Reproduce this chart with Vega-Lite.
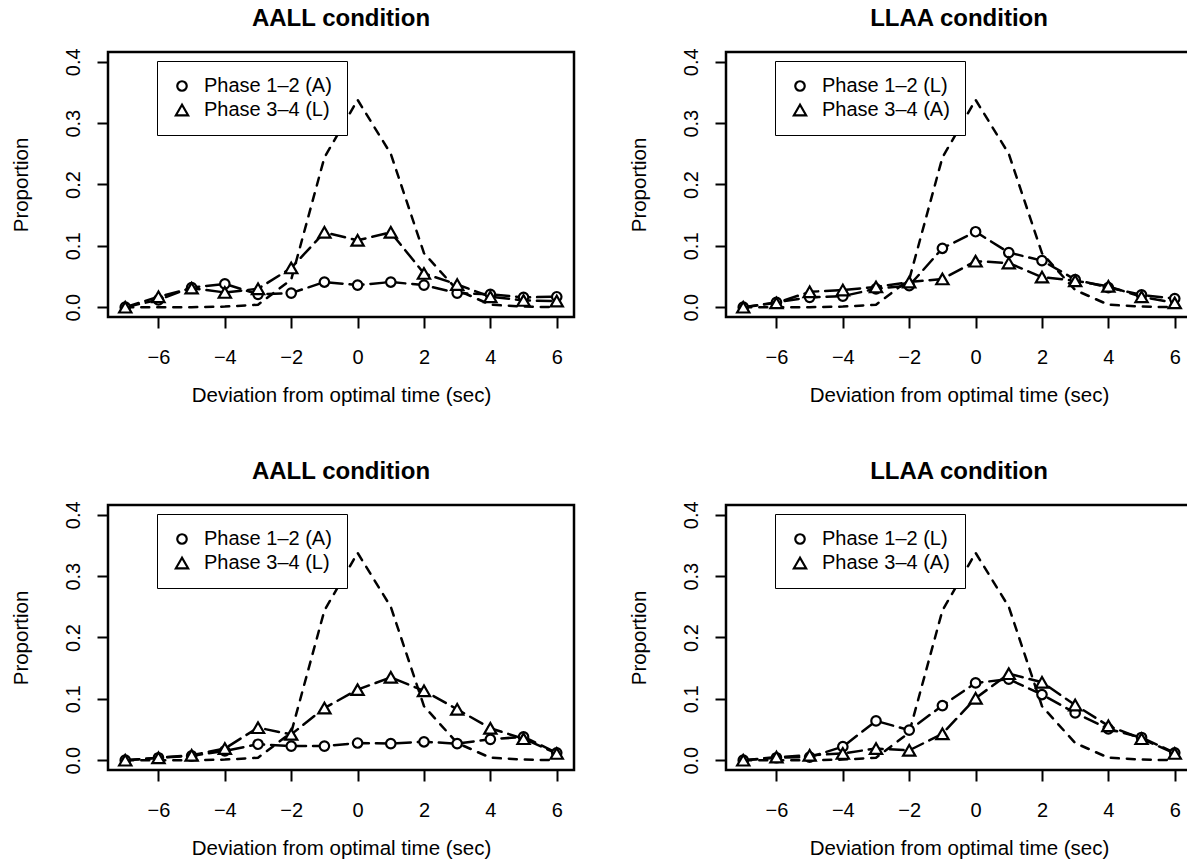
{
  "$schema": "https://vega.github.io/schema/vega-lite/v6.json",
  "background": "white",
  "padding": {"left": 9, "top": 5, "right": 0, "bottom": 0},
  "datasets": {
    "ref": [
      {"x": -7, "y": 0}, {"x": -6, "y": 0}, {"x": -5, "y": 0}, {"x": -4, "y": 0.001},
      {"x": -3, "y": 0.004}, {"x": -2, "y": 0.045}, {"x": -1, "y": 0.244}, {"x": 0, "y": 0.338},
      {"x": 1, "y": 0.25}, {"x": 2, "y": 0.088}, {"x": 3, "y": 0.028}, {"x": 4, "y": 0.004},
      {"x": 5, "y": 0.001}, {"x": 6, "y": 0}
    ],
    "obs": [
      {"panel": "p1", "series": "Phase 1–2 (A)", "x": -7, "y": 0},
      {"panel": "p1", "series": "Phase 1–2 (A)", "x": -6, "y": 0.012},
      {"panel": "p1", "series": "Phase 1–2 (A)", "x": -5, "y": 0.032},
      {"panel": "p1", "series": "Phase 1–2 (A)", "x": -4, "y": 0.038},
      {"panel": "p1", "series": "Phase 1–2 (A)", "x": -3, "y": 0.021},
      {"panel": "p1", "series": "Phase 1–2 (A)", "x": -2, "y": 0.023},
      {"panel": "p1", "series": "Phase 1–2 (A)", "x": -1, "y": 0.041},
      {"panel": "p1", "series": "Phase 1–2 (A)", "x": 0, "y": 0.036},
      {"panel": "p1", "series": "Phase 1–2 (A)", "x": 1, "y": 0.041},
      {"panel": "p1", "series": "Phase 1–2 (A)", "x": 2, "y": 0.036},
      {"panel": "p1", "series": "Phase 1–2 (A)", "x": 3, "y": 0.023},
      {"panel": "p1", "series": "Phase 1–2 (A)", "x": 4, "y": 0.021},
      {"panel": "p1", "series": "Phase 1–2 (A)", "x": 5, "y": 0.016},
      {"panel": "p1", "series": "Phase 1–2 (A)", "x": 6, "y": 0.017},
      {"panel": "p1", "series": "Phase 3–4 (L)", "x": -7, "y": 0},
      {"panel": "p1", "series": "Phase 3–4 (L)", "x": -6, "y": 0.017},
      {"panel": "p1", "series": "Phase 3–4 (L)", "x": -5, "y": 0.031},
      {"panel": "p1", "series": "Phase 3–4 (L)", "x": -4, "y": 0.024},
      {"panel": "p1", "series": "Phase 3–4 (L)", "x": -3, "y": 0.03},
      {"panel": "p1", "series": "Phase 3–4 (L)", "x": -2, "y": 0.064},
      {"panel": "p1", "series": "Phase 3–4 (L)", "x": -1, "y": 0.122},
      {"panel": "p1", "series": "Phase 3–4 (L)", "x": 0, "y": 0.109},
      {"panel": "p1", "series": "Phase 3–4 (L)", "x": 1, "y": 0.122},
      {"panel": "p1", "series": "Phase 3–4 (L)", "x": 2, "y": 0.055},
      {"panel": "p1", "series": "Phase 3–4 (L)", "x": 3, "y": 0.037},
      {"panel": "p1", "series": "Phase 3–4 (L)", "x": 4, "y": 0.017},
      {"panel": "p1", "series": "Phase 3–4 (L)", "x": 5, "y": 0.011},
      {"panel": "p1", "series": "Phase 3–4 (L)", "x": 6, "y": 0.01},

      {"panel": "p2", "series": "Phase 1–2 (L)", "x": -7, "y": 0},
      {"panel": "p2", "series": "Phase 1–2 (L)", "x": -6, "y": 0.008},
      {"panel": "p2", "series": "Phase 1–2 (L)", "x": -5, "y": 0.016},
      {"panel": "p2", "series": "Phase 1–2 (L)", "x": -4, "y": 0.018},
      {"panel": "p2", "series": "Phase 1–2 (L)", "x": -3, "y": 0.03},
      {"panel": "p2", "series": "Phase 1–2 (L)", "x": -2, "y": 0.035},
      {"panel": "p2", "series": "Phase 1–2 (L)", "x": -1, "y": 0.096},
      {"panel": "p2", "series": "Phase 1–2 (L)", "x": 0, "y": 0.123},
      {"panel": "p2", "series": "Phase 1–2 (L)", "x": 1, "y": 0.089},
      {"panel": "p2", "series": "Phase 1–2 (L)", "x": 2, "y": 0.076},
      {"panel": "p2", "series": "Phase 1–2 (L)", "x": 3, "y": 0.045},
      {"panel": "p2", "series": "Phase 1–2 (L)", "x": 4, "y": 0.032},
      {"panel": "p2", "series": "Phase 1–2 (L)", "x": 5, "y": 0.02},
      {"panel": "p2", "series": "Phase 1–2 (L)", "x": 6, "y": 0.014},
      {"panel": "p2", "series": "Phase 3–4 (A)", "x": -7, "y": 0},
      {"panel": "p2", "series": "Phase 3–4 (A)", "x": -6, "y": 0.007},
      {"panel": "p2", "series": "Phase 3–4 (A)", "x": -5, "y": 0.025},
      {"panel": "p2", "series": "Phase 3–4 (A)", "x": -4, "y": 0.028},
      {"panel": "p2", "series": "Phase 3–4 (A)", "x": -3, "y": 0.033},
      {"panel": "p2", "series": "Phase 3–4 (A)", "x": -2, "y": 0.041},
      {"panel": "p2", "series": "Phase 3–4 (A)", "x": -1, "y": 0.046},
      {"panel": "p2", "series": "Phase 3–4 (A)", "x": 0, "y": 0.075},
      {"panel": "p2", "series": "Phase 3–4 (A)", "x": 1, "y": 0.072},
      {"panel": "p2", "series": "Phase 3–4 (A)", "x": 2, "y": 0.049},
      {"panel": "p2", "series": "Phase 3–4 (A)", "x": 3, "y": 0.043},
      {"panel": "p2", "series": "Phase 3–4 (A)", "x": 4, "y": 0.034},
      {"panel": "p2", "series": "Phase 3–4 (A)", "x": 5, "y": 0.017},
      {"panel": "p2", "series": "Phase 3–4 (A)", "x": 6, "y": 0.007},

      {"panel": "p3", "series": "Phase 1–2 (A)", "x": -7, "y": 0},
      {"panel": "p3", "series": "Phase 1–2 (A)", "x": -6, "y": 0.004},
      {"panel": "p3", "series": "Phase 1–2 (A)", "x": -5, "y": 0.007},
      {"panel": "p3", "series": "Phase 1–2 (A)", "x": -4, "y": 0.015},
      {"panel": "p3", "series": "Phase 1–2 (A)", "x": -3, "y": 0.026},
      {"panel": "p3", "series": "Phase 1–2 (A)", "x": -2, "y": 0.023},
      {"panel": "p3", "series": "Phase 1–2 (A)", "x": -1, "y": 0.023},
      {"panel": "p3", "series": "Phase 1–2 (A)", "x": 0, "y": 0.028},
      {"panel": "p3", "series": "Phase 1–2 (A)", "x": 1, "y": 0.027},
      {"panel": "p3", "series": "Phase 1–2 (A)", "x": 2, "y": 0.03},
      {"panel": "p3", "series": "Phase 1–2 (A)", "x": 3, "y": 0.027},
      {"panel": "p3", "series": "Phase 1–2 (A)", "x": 4, "y": 0.034},
      {"panel": "p3", "series": "Phase 1–2 (A)", "x": 5, "y": 0.038},
      {"panel": "p3", "series": "Phase 1–2 (A)", "x": 6, "y": 0.012},
      {"panel": "p3", "series": "Phase 3–4 (L)", "x": -7, "y": 0},
      {"panel": "p3", "series": "Phase 3–4 (L)", "x": -6, "y": 0.004},
      {"panel": "p3", "series": "Phase 3–4 (L)", "x": -5, "y": 0.008},
      {"panel": "p3", "series": "Phase 3–4 (L)", "x": -4, "y": 0.019},
      {"panel": "p3", "series": "Phase 3–4 (L)", "x": -3, "y": 0.053},
      {"panel": "p3", "series": "Phase 3–4 (L)", "x": -2, "y": 0.042},
      {"panel": "p3", "series": "Phase 3–4 (L)", "x": -1, "y": 0.085},
      {"panel": "p3", "series": "Phase 3–4 (L)", "x": 0, "y": 0.115},
      {"panel": "p3", "series": "Phase 3–4 (L)", "x": 1, "y": 0.135},
      {"panel": "p3", "series": "Phase 3–4 (L)", "x": 2, "y": 0.113},
      {"panel": "p3", "series": "Phase 3–4 (L)", "x": 3, "y": 0.083},
      {"panel": "p3", "series": "Phase 3–4 (L)", "x": 4, "y": 0.052},
      {"panel": "p3", "series": "Phase 3–4 (L)", "x": 5, "y": 0.035},
      {"panel": "p3", "series": "Phase 3–4 (L)", "x": 6, "y": 0.011},

      {"panel": "p4", "series": "Phase 1–2 (L)", "x": -7, "y": 0},
      {"panel": "p4", "series": "Phase 1–2 (L)", "x": -6, "y": 0.004},
      {"panel": "p4", "series": "Phase 1–2 (L)", "x": -5, "y": 0.005},
      {"panel": "p4", "series": "Phase 1–2 (L)", "x": -4, "y": 0.022},
      {"panel": "p4", "series": "Phase 1–2 (L)", "x": -3, "y": 0.064},
      {"panel": "p4", "series": "Phase 1–2 (L)", "x": -2, "y": 0.049},
      {"panel": "p4", "series": "Phase 1–2 (L)", "x": -1, "y": 0.089},
      {"panel": "p4", "series": "Phase 1–2 (L)", "x": 0, "y": 0.126},
      {"panel": "p4", "series": "Phase 1–2 (L)", "x": 1, "y": 0.132},
      {"panel": "p4", "series": "Phase 1–2 (L)", "x": 2, "y": 0.107},
      {"panel": "p4", "series": "Phase 1–2 (L)", "x": 3, "y": 0.077},
      {"panel": "p4", "series": "Phase 1–2 (L)", "x": 4, "y": 0.051},
      {"panel": "p4", "series": "Phase 1–2 (L)", "x": 5, "y": 0.037},
      {"panel": "p4", "series": "Phase 1–2 (L)", "x": 6, "y": 0.012},
      {"panel": "p4", "series": "Phase 3–4 (A)", "x": -7, "y": 0},
      {"panel": "p4", "series": "Phase 3–4 (A)", "x": -6, "y": 0.005},
      {"panel": "p4", "series": "Phase 3–4 (A)", "x": -5, "y": 0.008},
      {"panel": "p4", "series": "Phase 3–4 (A)", "x": -4, "y": 0.011},
      {"panel": "p4", "series": "Phase 3–4 (A)", "x": -3, "y": 0.019},
      {"panel": "p4", "series": "Phase 3–4 (A)", "x": -2, "y": 0.016},
      {"panel": "p4", "series": "Phase 3–4 (A)", "x": -1, "y": 0.043},
      {"panel": "p4", "series": "Phase 3–4 (A)", "x": 0, "y": 0.101},
      {"panel": "p4", "series": "Phase 3–4 (A)", "x": 1, "y": 0.141},
      {"panel": "p4", "series": "Phase 3–4 (A)", "x": 2, "y": 0.127},
      {"panel": "p4", "series": "Phase 3–4 (A)", "x": 3, "y": 0.09},
      {"panel": "p4", "series": "Phase 3–4 (A)", "x": 4, "y": 0.056},
      {"panel": "p4", "series": "Phase 3–4 (A)", "x": 5, "y": 0.035},
      {"panel": "p4", "series": "Phase 3–4 (A)", "x": 6, "y": 0.011}
    ]
  },
  "concat": [
    {
      "width": 466, "height": 265,
      "title": {"text": "AALL condition"},
      "encoding": {
        "x": {"field": "x", "type": "quantitative", "scale": {"domain": [-7.52, 6.52], "nice": false, "zero": false},
              "axis": {"values": [-6, -4, -2, 0, 2, 4, 6], "title": "Deviation from optimal time (sec)"}},
        "y": {"field": "y", "type": "quantitative", "scale": {"domain": [-0.016, 0.416], "nice": false, "zero": false},
              "axis": {"values": [0, 0.1, 0.2, 0.3, 0.4], "format": ".1f", "title": "Proportion"}}
      },
      "layer": [
        {"data": {"name": "ref"}, "mark": {"type": "line", "stroke": "black", "strokeWidth": 2.5, "strokeDash": [8, 8], "strokeCap": "round"}},
        {"data": {"name": "obs"}, "transform": [{"filter": "datum.panel === 'p1'"}],
         "mark": {"type": "line", "stroke": "black", "strokeWidth": 2.5, "strokeDash": [14, 7], "strokeCap": "round"},
         "encoding": {"detail": {"field": "series"}}},
        {"data": {"name": "obs"}, "transform": [{"filter": "datum.panel === 'p1'"}],
         "mark": {"type": "point", "filled": false, "fill": "white", "stroke": "black", "strokeWidth": 2.2, "opacity": 1},
         "encoding": {
           "shape": {"field": "series", "type": "ordinal", "scale": {"range": ["circle", "triangle-up"]},
                     "legend": {"title": null, "symbolStrokeColor": "black", "symbolFillColor": "white", "symbolStrokeWidth": 2.2, "symbolOpacity": 1,
                                "encode": {"symbols": {"update": {"stroke": {"value": "black"}, "fill": {"value": "white"}, "strokeWidth": {"value": 2.2}, "opacity": {"value": 1}}},
                                           "legend": {"update": {"stroke": {"value": "black"}, "strokeWidth": {"value": 2.5}}}}}},
           "size": {"field": "series", "type": "ordinal", "scale": {"range": [90, 150]}, "legend": {"title": null}}
         }}
      ]
    },
    {
      "width": 466, "height": 265,
      "title": {"text": "LLAA condition"},
      "encoding": {
        "x": {"field": "x", "type": "quantitative", "scale": {"domain": [-7.52, 6.52], "nice": false, "zero": false},
              "axis": {"values": [-6, -4, -2, 0, 2, 4, 6], "title": "Deviation from optimal time (sec)"}},
        "y": {"field": "y", "type": "quantitative", "scale": {"domain": [-0.016, 0.416], "nice": false, "zero": false},
              "axis": {"values": [0, 0.1, 0.2, 0.3, 0.4], "format": ".1f", "title": "Proportion"}}
      },
      "layer": [
        {"data": {"name": "ref"}, "mark": {"type": "line", "stroke": "black", "strokeWidth": 2.5, "strokeDash": [8, 8], "strokeCap": "round"}},
        {"data": {"name": "obs"}, "transform": [{"filter": "datum.panel === 'p2'"}],
         "mark": {"type": "line", "stroke": "black", "strokeWidth": 2.5, "strokeDash": [14, 7], "strokeCap": "round"},
         "encoding": {"detail": {"field": "series"}}},
        {"data": {"name": "obs"}, "transform": [{"filter": "datum.panel === 'p2'"}],
         "mark": {"type": "point", "filled": false, "fill": "white", "stroke": "black", "strokeWidth": 2.2, "opacity": 1},
         "encoding": {
           "shape": {"field": "series", "type": "ordinal", "scale": {"range": ["circle", "triangle-up"]},
                     "legend": {"title": null, "symbolStrokeColor": "black", "symbolFillColor": "white", "symbolStrokeWidth": 2.2, "symbolOpacity": 1,
                                "encode": {"symbols": {"update": {"stroke": {"value": "black"}, "fill": {"value": "white"}, "strokeWidth": {"value": 2.2}, "opacity": {"value": 1}}},
                                           "legend": {"update": {"stroke": {"value": "black"}, "strokeWidth": {"value": 2.5}}}}}},
           "size": {"field": "series", "type": "ordinal", "scale": {"range": [90, 150]}, "legend": {"title": null}}
         }}
      ]
    },
    {
      "width": 466, "height": 265,
      "title": {"text": "AALL condition"},
      "encoding": {
        "x": {"field": "x", "type": "quantitative", "scale": {"domain": [-7.52, 6.52], "nice": false, "zero": false},
              "axis": {"values": [-6, -4, -2, 0, 2, 4, 6], "title": "Deviation from optimal time (sec)"}},
        "y": {"field": "y", "type": "quantitative", "scale": {"domain": [-0.016, 0.416], "nice": false, "zero": false},
              "axis": {"values": [0, 0.1, 0.2, 0.3, 0.4], "format": ".1f", "title": "Proportion"}}
      },
      "layer": [
        {"data": {"name": "ref"}, "mark": {"type": "line", "stroke": "black", "strokeWidth": 2.5, "strokeDash": [8, 8], "strokeCap": "round"}},
        {"data": {"name": "obs"}, "transform": [{"filter": "datum.panel === 'p3'"}],
         "mark": {"type": "line", "stroke": "black", "strokeWidth": 2.5, "strokeDash": [14, 7], "strokeCap": "round"},
         "encoding": {"detail": {"field": "series"}}},
        {"data": {"name": "obs"}, "transform": [{"filter": "datum.panel === 'p3'"}],
         "mark": {"type": "point", "filled": false, "fill": "white", "stroke": "black", "strokeWidth": 2.2, "opacity": 1},
         "encoding": {
           "shape": {"field": "series", "type": "ordinal", "scale": {"range": ["circle", "triangle-up"]},
                     "legend": {"title": null, "symbolStrokeColor": "black", "symbolFillColor": "white", "symbolStrokeWidth": 2.2, "symbolOpacity": 1,
                                "encode": {"symbols": {"update": {"stroke": {"value": "black"}, "fill": {"value": "white"}, "strokeWidth": {"value": 2.2}, "opacity": {"value": 1}}},
                                           "legend": {"update": {"stroke": {"value": "black"}, "strokeWidth": {"value": 2.5}}}}}},
           "size": {"field": "series", "type": "ordinal", "scale": {"range": [90, 150]}, "legend": {"title": null}}
         }}
      ]
    },
    {
      "width": 466, "height": 265,
      "title": {"text": "LLAA condition"},
      "encoding": {
        "x": {"field": "x", "type": "quantitative", "scale": {"domain": [-7.52, 6.52], "nice": false, "zero": false},
              "axis": {"values": [-6, -4, -2, 0, 2, 4, 6], "title": "Deviation from optimal time (sec)"}},
        "y": {"field": "y", "type": "quantitative", "scale": {"domain": [-0.016, 0.416], "nice": false, "zero": false},
              "axis": {"values": [0, 0.1, 0.2, 0.3, 0.4], "format": ".1f", "title": "Proportion"}}
      },
      "layer": [
        {"data": {"name": "ref"}, "mark": {"type": "line", "stroke": "black", "strokeWidth": 2.5, "strokeDash": [8, 8], "strokeCap": "round"}},
        {"data": {"name": "obs"}, "transform": [{"filter": "datum.panel === 'p4'"}],
         "mark": {"type": "line", "stroke": "black", "strokeWidth": 2.5, "strokeDash": [14, 7], "strokeCap": "round"},
         "encoding": {"detail": {"field": "series"}}},
        {"data": {"name": "obs"}, "transform": [{"filter": "datum.panel === 'p4'"}],
         "mark": {"type": "point", "filled": false, "fill": "white", "stroke": "black", "strokeWidth": 2.2, "opacity": 1},
         "encoding": {
           "shape": {"field": "series", "type": "ordinal", "scale": {"range": ["circle", "triangle-up"]},
                     "legend": {"title": null, "symbolStrokeColor": "black", "symbolFillColor": "white", "symbolStrokeWidth": 2.2, "symbolOpacity": 1,
                                "encode": {"symbols": {"update": {"stroke": {"value": "black"}, "fill": {"value": "white"}, "strokeWidth": {"value": 2.2}, "opacity": {"value": 1}}},
                                           "legend": {"update": {"stroke": {"value": "black"}, "strokeWidth": {"value": 2.5}}}}}},
           "size": {"field": "series", "type": "ordinal", "scale": {"range": [90, 150]}, "legend": {"title": null}}
         }}
      ]
    }
  ],
  "columns": 2,
  "spacing": {"row": 188, "column": 152},
  "bounds": "flush",
  "resolve": {"scale": {"shape": "independent", "size": "independent"}, "legend": {"shape": "independent", "size": "independent"}},
  "config": {
    "font": "Liberation Sans",
    "view": {"stroke": "black", "strokeWidth": 2.5},
    "title": {"fontSize": 24, "fontWeight": "bold", "color": "black", "baseline": "alphabetic", "offset": 17, "anchor": "middle", "frame": "group"},
    "axis": {
      "grid": false, "domain": false,
      "tickColor": "black", "tickWidth": 2, "tickSize": 11,
      "labelFontSize": 20, "labelColor": "black", "labelFlush": false, "labelOverlap": false, "labelBound": false,
      "titleFontSize": 20.5, "titleFontWeight": "normal", "titleColor": "black"
    },
    "axisBottom": {"labelBaseline": "alphabetic", "labelPadding": 35, "titleBaseline": "alphabetic", "titleY": 84, "titleX": 233, "titleAnchor": "middle"},
    "axisLeft": {"labelAngle": -90, "labelAlign": "center", "labelBaseline": "alphabetic", "labelPadding": 18, "titleAngle": -90, "titleBaseline": "alphabetic", "titleAlign": "center", "titleX": -81, "titleY": 132.5},
    "legend": {
      "orient": "none", "legendX": 49, "legendY": 9,
      "padding": 15, "strokeColor": "black", "fillColor": "white",
      "labelFontSize": 20, "labelColor": "black", "labelOffset": 12, "labelFont": "Liberation Sans",
      "rowPadding": 4
    }
  }
}
